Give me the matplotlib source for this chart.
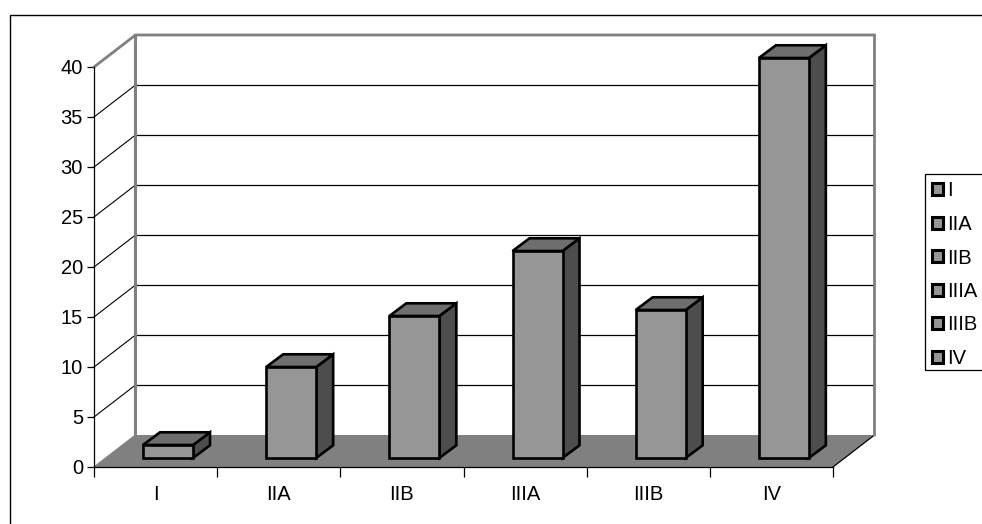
import matplotlib
matplotlib.use("Agg")
import matplotlib.pyplot as plt
from matplotlib.patches import Polygon, Rectangle

plt.rcParams["font.family"] = ["Liberation Sans", "DejaVu Sans"]

stages = ["I", "IIA", "IIB", "IIIA", "IIIB", "IV"]
values = [1.3, 9.1, 14.2, 20.7, 14.8, 40.0]
yticks = [0, 5, 10, 15, 20, 25, 30, 35, 40]

# depth of the fake 3d box, in data units
DX, DY = 41.5 / 123.2, 3.2
BAR_W = 50 / 123.2
BAR_DX, BAR_DY = 17 / 123.2, 1.27
BAR_X, BAR_Y = 0.398, 0.9

GREY = "#808080"
FRONT = "#969696"
TOP = "#6e6e6e"
SIDE = "#4d4d4d"
FS = 14.5

W, H = 982, 524
fig = plt.figure(figsize=(W / 100, H / 100), dpi=100)
ax = fig.add_axes([94 / W, (H - 467) / H, 739 / W, 400 / H])
ax.set_xlim(0, len(stages))
ax.set_ylim(0, 40)
ax.patch.set_visible(False)

# outer chart frame and legend box run off the right edge
fig.add_artist(Rectangle((9.5 / W, -0.05), 1.1, (H - 14.5) / H + 0.05, transform=fig.transFigure,
                         fill=False, ec="black", lw=1.0))
fig.add_artist(Rectangle((924.5 / W, (H - 370) / H), 0.2, 196 / H, transform=fig.transFigure,
                         fill=False, ec="black", lw=0.9))

n = len(stages)
# floor
ax.add_patch(Polygon([(0, 0), (n, 0), (n + DX, DY), (DX, DY)], fc=GREY, ec="none", clip_on=False, zorder=1))
# gridlines on back wall and side wall
for t in yticks[1:-1]:
    ax.plot([DX, n + DX], [t + DY, t + DY], color="black", lw=0.9, clip_on=False, zorder=1)
    ax.plot([0, DX], [t, t + DY], color="black", lw=0.8, clip_on=False, zorder=1)
# floor front right edge
ax.plot([n, n + DX], [0, DY], color="black", lw=0.9, clip_on=False, zorder=2)
ax.plot([0, DX], [0, DY], color=GREY, lw=0.9, clip_on=False, zorder=2)
# wall outline
ax.plot([0, DX, n + DX, n + DX], [40, 40 + DY, 40 + DY, DY], color=GREY, lw=2.0, clip_on=False, zorder=2,
        solid_joinstyle="miter")
ax.plot([DX, DX], [DY, 40 + DY], color=GREY, lw=2.2, clip_on=False, zorder=2)

for i, v in enumerate(values):
    x0 = i + BAR_X
    x1 = x0 + BAR_W
    y0 = BAR_Y
    y1 = y0 + v
    style = dict(ec="black", lw=1.9, clip_on=False, zorder=4, joinstyle="miter")
    ax.add_patch(Polygon([(x1, y0), (x1 + BAR_DX, y0 + BAR_DY), (x1 + BAR_DX, y1 + BAR_DY), (x1, y1)], fc=SIDE, **style))
    ax.add_patch(Polygon([(x0, y1), (x1, y1), (x1 + BAR_DX, y1 + BAR_DY), (x0 + BAR_DX, y1 + BAR_DY)], fc=TOP, **style))
    ax.add_patch(Rectangle((x0, y0), BAR_W, v, fc=FRONT, **style))

for s in ["top", "right"]:
    ax.spines[s].set_visible(False)
for s in ["left", "bottom"]:
    ax.spines[s].set_linewidth(0.9)
    ax.spines[s].set_zorder(3)

ax.set_yticks(yticks)
ax.tick_params(axis="y", length=5, width=0.9, labelsize=FS, pad=3)
ax.set_xticks(range(n + 1))
ax.set_xticklabels([])
ax.tick_params(axis="x", which="major", length=7, width=0.9)
ax.set_xticks([i + 0.5 for i in range(n)], minor=True)
ax.set_xticklabels(stages, minor=True, fontsize=FS)
ax.tick_params(axis="x", which="minor", length=0, pad=13)

handles = [Rectangle((0, 0), 1, 1, fc=FRONT, ec="black", lw=2.2) for _ in stages]
leg = fig.legend(handles, stages, loc="upper left", bbox_to_anchor=(931.5 / W, (H - 181.5) / H), frameon=False,
                 fontsize=FS, handlelength=0.55, handleheight=0.55, handletextpad=0.25,
                 labelspacing=0.72, borderpad=0, borderaxespad=0)

fig.savefig("out.png", dpi=100)
